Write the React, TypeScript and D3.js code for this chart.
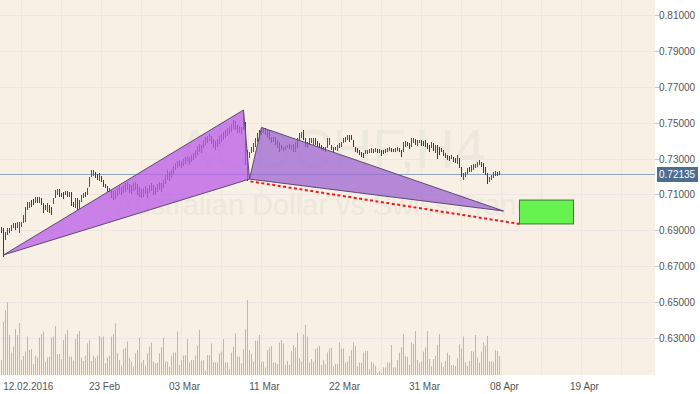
import React, { useEffect, useRef } from "react";
import * as d3 from "d3";

// AUDCHF H4 bars (one value per 4h bar)
const highs = [
  0.6919, 0.6913, 0.6891, 0.6913, 0.6913, 0.6930, 0.6941, 0.6941, 0.6947, 0.6947,
  0.6947, 0.6986, 0.7030, 0.7058, 0.7058, 0.7069, 0.7075, 0.7086, 0.7086, 0.7086,
  0.7081, 0.7053, 0.7042, 0.7053, 0.7042, 0.7030, 0.7081, 0.7125, 0.7131, 0.7131,
  0.7108, 0.7114, 0.7120, 0.7120, 0.7114, 0.7114, 0.7058, 0.7081, 0.7081, 0.7069,
  0.7097, 0.7108, 0.7114, 0.7136, 0.7198, 0.7237, 0.7237, 0.7225, 0.7214, 0.7220,
  0.7203, 0.7181, 0.7159, 0.7147, 0.7136, 0.7125, 0.7120, 0.7125, 0.7136, 0.7147,
  0.7142, 0.7153, 0.7164, 0.7170, 0.7159, 0.7153, 0.7164, 0.7170, 0.7159, 0.7142,
  0.7131, 0.7136, 0.7147, 0.7136, 0.7153, 0.7164, 0.7153, 0.7142, 0.7159, 0.7170,
  0.7164, 0.7181, 0.7209, 0.7237, 0.7225, 0.7237, 0.7259, 0.7276, 0.7287, 0.7292,
  0.7281, 0.7298, 0.7309, 0.7315, 0.7309, 0.7320, 0.7331, 0.7348, 0.7370, 0.7382,
  0.7376, 0.7404, 0.7421, 0.7426, 0.7437, 0.7426, 0.7409, 0.7398, 0.7409, 0.7426,
  0.7437, 0.7448, 0.7460, 0.7471, 0.7476, 0.7493, 0.7515, 0.7510, 0.7487, 0.7482,
  0.7476, 0.7565, 0.7504, 0.7348, 0.7337, 0.7365, 0.7387, 0.7415, 0.7443, 0.7460,
  0.7471, 0.7471, 0.7471, 0.7460, 0.7460, 0.7421, 0.7421, 0.7421, 0.7404, 0.7393,
  0.7376, 0.7365, 0.7370, 0.7376, 0.7382, 0.7376, 0.7382, 0.7393, 0.7415, 0.7443,
  0.7448, 0.7460, 0.7415, 0.7393, 0.7415, 0.7415, 0.7415, 0.7415, 0.7398, 0.7387,
  0.7376, 0.7365, 0.7365, 0.7415, 0.7415, 0.7376, 0.7365, 0.7365, 0.7376, 0.7387,
  0.7393, 0.7415, 0.7421, 0.7432, 0.7432, 0.7432, 0.7404, 0.7365, 0.7359, 0.7348,
  0.7337, 0.7331, 0.7348, 0.7348, 0.7354, 0.7359, 0.7354, 0.7359, 0.7354, 0.7354,
  0.7348, 0.7348, 0.7354, 0.7359, 0.7365, 0.7359, 0.7354, 0.7359, 0.7365, 0.7359,
  0.7348, 0.7393, 0.7398, 0.7393, 0.7387, 0.7415, 0.7415, 0.7409, 0.7404, 0.7404,
  0.7404, 0.7398, 0.7404, 0.7387, 0.7376, 0.7393, 0.7387, 0.7376, 0.7376, 0.7365,
  0.7359, 0.7348, 0.7331, 0.7320, 0.7315, 0.7320, 0.7309, 0.7303, 0.7320, 0.7303,
  0.7253, 0.7220, 0.7225, 0.7248, 0.7253, 0.7264, 0.7270, 0.7270, 0.7281, 0.7292,
  0.7281, 0.7276, 0.7253, 0.7220, 0.7198, 0.7209, 0.7225, 0.7231, 0.7225, 0.7231,
];
const lows = [
  0.6885, 0.6752, 0.6847, 0.6874, 0.6885, 0.6897, 0.6913, 0.6902, 0.6913, 0.6885,
  0.6919, 0.6941, 0.6947, 0.7014, 0.7025, 0.7030, 0.7042, 0.7053, 0.7053, 0.7053,
  0.7042, 0.6997, 0.7014, 0.7003, 0.6997, 0.6986, 0.7047, 0.7081, 0.7097, 0.7086,
  0.7086, 0.7075, 0.7097, 0.7086, 0.7086, 0.7036, 0.7030, 0.7025, 0.7014, 0.7019,
  0.7058, 0.7081, 0.7086, 0.7097, 0.7142, 0.7198, 0.7203, 0.7192, 0.7181, 0.7175,
  0.7170, 0.7142, 0.7136, 0.7114, 0.7114, 0.7081, 0.7069, 0.7075, 0.7092, 0.7103,
  0.7097, 0.7108, 0.7114, 0.7125, 0.7108, 0.7103, 0.7120, 0.7125, 0.7097, 0.7086,
  0.7081, 0.7086, 0.7103, 0.7081, 0.7108, 0.7120, 0.7097, 0.7097, 0.7114, 0.7125,
  0.7114, 0.7136, 0.7159, 0.7181, 0.7175, 0.7192, 0.7214, 0.7237, 0.7248, 0.7259,
  0.7248, 0.7259, 0.7270, 0.7281, 0.7264, 0.7281, 0.7292, 0.7303, 0.7320, 0.7337,
  0.7331, 0.7359, 0.7376, 0.7387, 0.7398, 0.7382, 0.7359, 0.7348, 0.7365, 0.7382,
  0.7393, 0.7404, 0.7415, 0.7426, 0.7437, 0.7448, 0.7465, 0.7460, 0.7443, 0.7443,
  0.7437, 0.7460, 0.7264, 0.7175, 0.7303, 0.7331, 0.7337, 0.7365, 0.7393, 0.7404,
  0.7432, 0.7443, 0.7432, 0.7415, 0.7404, 0.7387, 0.7393, 0.7376, 0.7359, 0.7337,
  0.7348, 0.7343, 0.7348, 0.7359, 0.7354, 0.7348, 0.7337, 0.7337, 0.7359, 0.7404,
  0.7415, 0.7404, 0.7365, 0.7359, 0.7376, 0.7387, 0.7376, 0.7376, 0.7365, 0.7359,
  0.7348, 0.7343, 0.7337, 0.7359, 0.7376, 0.7348, 0.7337, 0.7348, 0.7343, 0.7359,
  0.7365, 0.7387, 0.7393, 0.7404, 0.7393, 0.7404, 0.7365, 0.7337, 0.7331, 0.7320,
  0.7309, 0.7303, 0.7326, 0.7326, 0.7331, 0.7331, 0.7331, 0.7337, 0.7331, 0.7331,
  0.7315, 0.7326, 0.7331, 0.7337, 0.7343, 0.7337, 0.7337, 0.7337, 0.7343, 0.7337,
  0.7309, 0.7337, 0.7365, 0.7370, 0.7354, 0.7365, 0.7387, 0.7376, 0.7370, 0.7387,
  0.7370, 0.7370, 0.7365, 0.7354, 0.7337, 0.7359, 0.7343, 0.7331, 0.7298, 0.7320,
  0.7337, 0.7315, 0.7303, 0.7292, 0.7287, 0.7298, 0.7281, 0.7276, 0.7270, 0.7248,
  0.7198, 0.7181, 0.7198, 0.7214, 0.7225, 0.7225, 0.7237, 0.7248, 0.7253, 0.7264,
  0.7253, 0.7220, 0.7209, 0.7159, 0.7170, 0.7181, 0.7192, 0.7203, 0.7203, 0.7209,
];
// u = bar closed up (green), d = closed down (red)
const barDir = (
  "dduuuuuduu" + "uuuuuddudu" + "dddudduuud" + "ddududdudu" + "uuduuuuddu" +
  "dddduddu uu".replace(" ", "") + "duuudduudd" + "duuduudduu" + "duuuduuuuu" + "duuuduuuuu" +
  "duuuuddduu" + "uuuuuuuddu" + "dudduuuuuu" + "uddddduddd" + "dduudududu" +
  "uddduuuddd" + "ddduuddduu" + "uuuudddddd" + "dduuuududu" + "dduuudduud" +
  "duudduuduu" + "dddddududd" + "ddddduddud" + "duuuduuuuu" + "dddduuuudu"
).split("");
const volumes = [
  750, 2670, 3250, 3630, 2000, 1120, 1420, 2300, 2000, 2600,
  750, 950, 1170, 1920, 1250, 1300, 550, 970, 870, 1870,
  2050, 2150, 650, 870, 920, 1870, 1920, 2450, 1050, 1050,
  800, 1750, 2050, 2250, 920, 920, 720, 1800, 2050, 2200,
  870, 700, 970, 1580, 1750, 700, 970, 850, 970, 1950,
  1870, 1920, 600, 870, 950, 1920, 2050, 2580, 1080, 750,
  470, 1300, 1370, 1670, 850, 670, 420, 1080, 1250, 1870,
  630, 750, 470, 1080, 1420, 1620, 670, 580, 620, 1080,
  1380, 1870, 670, 670, 420, 970, 1120, 1120, 2170, 500,
  750, 970, 1000, 1800, 630, 750, 750, 970, 1470, 2250,
  720, 750, 220, 1000, 1000, 1580, 630, 630, 630, 1080,
  1170, 1800, 630, 630, 300, 1120, 1420, 2080, 920, 920,
  580, 1280, 2280, 3750, 1250, 1050, 670, 1720, 1720, 2000,
  670, 670, 370, 1250, 1370, 1450, 620, 620, 550, 1620,
  1750, 1580, 500, 700, 500, 1200, 1500, 1370, 2120, 830,
  670, 2030, 2500, 1920, 620, 800, 670, 1300, 1370, 1450,
  500, 750, 550, 1130, 1330, 1370, 450, 550, 550, 1620,
  1330, 1330, 620, 670, 950, 1250, 1630, 1450, 450, 620,
  620, 1120, 1200, 1200, 300, 670, 580, 450, 120, 200,
  100, 380, 380, 620, 620, 1500, 380, 380, 750, 1120,
  1380, 2050, 950, 920, 500, 1620, 1550, 2200, 750, 620,
  670, 1170, 1370, 2200, 800, 450, 800, 950, 1500, 2050,
  620, 420, 700, 1120, 1000, 500, 500, 450, 830, 1530,
  1330, 1920, 630, 450, 700, 1200, 1170, 2000, 870, 620,
  1170, 1620, 1470, 1950, 700, 670, 670, 1250, 1200, 950,
];

const priceTicks = [0.63, 0.65, 0.67, 0.69, 0.71, 0.73, 0.75, 0.77, 0.79, 0.81];
const dateTickBars = [10, 50, 90, 130, 170, 210, 250, 290];
const dateTickLabels = ["12.02.2016", "23 Feb", "03 Mar", "11 Mar", "22 Mar", "31 Mar", "08 Apr", "19 Apr"];
const lastPrice = 0.72135;

// harmonic pattern X-A-B-C-D
const patternBars = [1, 121, 124, 130, 251];
const patternPrices = [0.6763, 0.7571, 0.7186, 0.7474, 0.7008];
const projectionBars = [124.5, 259];
const projectionPrices = [0.7173, 0.6936];
const targetBars = [259, 286];
const targetPrices = [0.7069, 0.6936];

const W = 700;
const H = 394;
const plotR = 655;
const plotB = 375;
const font = "'Liberation Sans', Arial, sans-serif";

export default function App() {
  const svgRef = useRef<SVGSVGElement>(null);

  useEffect(() => {
    const svg = d3.select(svgRef.current);
    svg.selectAll("*").remove();

    const x = d3.scaleLinear().domain([-0.75, 326.75]).range([0, plotR]);
    const y = d3.scaleLinear().domain([0.6094, 0.8184]).range([plotB, 0]);
    const yVol = d3.scaleLinear().domain([0, 5000]).range([plotB, plotB - 100]);

    svg.append("rect").attr("width", W).attr("height", H).attr("fill", "#ffffff");
    svg.append("rect").attr("width", plotR).attr("height", plotB).attr("fill", "#f8f0e4");

    // grid
    const grid = svg.append("g").attr("stroke", "#efe5e4").attr("stroke-width", 1);
    priceTicks.forEach((p) => {
      const yy = Math.round(y(p)) + 0.5;
      grid.append("line").attr("x1", 0).attr("x2", plotR).attr("y1", yy).attr("y2", yy);
    });
    d3.range(10, 327, 20).forEach((b) => {
      const xx = Math.floor(x(b)) + 0.5;
      grid.append("line").attr("x1", xx).attr("x2", xx).attr("y1", 0).attr("y2", plotB);
    });

    // watermark
    svg.append("text")
      .attr("x", 331).attr("y", 168)
      .attr("text-anchor", "middle")
      .attr("font-family", font).attr("font-size", 55)
      .attr("fill", "#ece8dd")
      .text("AUDCHF,H4");
    svg.append("text")
      .attr("x", 323).attr("y", 215)
      .attr("text-anchor", "middle")
      .attr("font-family", font).attr("font-size", 29)
      .attr("fill", "#ece8dd")
      .text("Australian Dollar vs Swiss Franc");

    // volumes
    svg.append("g")
      .selectAll("rect")
      .data(volumes)
      .join("rect")
      .attr("x", (v, i) => x(i) - 0.5)
      .attr("width", 1)
      .attr("y", (v) => yVol(v))
      .attr("height", (v) => plotB - yVol(v))
      .attr("fill", "#8ec6e0");

    // last price line
    const yLast = Math.round(y(lastPrice)) + 0.5;
    svg.append("line")
      .attr("x1", 0).attr("x2", plotR)
      .attr("y1", yLast).attr("y2", yLast)
      .attr("stroke", "#8ea8c0");

    // price bars
    svg.append("g")
      .selectAll("line")
      .data(highs)
      .join("line")
      .attr("x1", (h, i) => x(i))
      .attr("x2", (h, i) => x(i))
      .attr("y1", (h) => Math.round(y(h)))
      .attr("y2", (h, i) => Math.max(Math.round(y(lows[i])), Math.round(y(h)) + 2))
      .attr("stroke", (h, i) => (barDir[i] === "u" ? "#2b6a27" : "#7a2020"))
      .attr("stroke-width", 1);

    // pattern triangles
    const pts = patternBars.map((b, i) => [x(b), y(patternPrices[i])] as [number, number]);
    const line = d3.line().curve(d3.curveLinearClosed);
    svg.append("path")
      .attr("d", line([pts[0], pts[1], pts[2]]))
      .attr("fill", "#b95de9").attr("fill-opacity", 0.76)
      .attr("stroke", "#5d4a70").attr("stroke-width", 1);
    svg.append("path")
      .attr("d", line([pts[2], pts[3], pts[4]]))
      .attr("fill", "#9f67d2").attr("fill-opacity", 0.76)
      .attr("stroke", "#5d4a70").attr("stroke-width", 1);

    // projection line
    svg.append("line")
      .attr("x1", x(projectionBars[0])).attr("y1", y(projectionPrices[0]))
      .attr("x2", x(projectionBars[1])).attr("y2", y(projectionPrices[1]))
      .attr("stroke", "#f01818").attr("stroke-width", 2)
      .attr("stroke-dasharray", "3 2.5");

    // target zone
    svg.append("rect")
      .attr("x", x(targetBars[0]))
      .attr("y", y(targetPrices[0]))
      .attr("width", x(targetBars[1]) - x(targetBars[0]))
      .attr("height", y(targetPrices[1]) - y(targetPrices[0]))
      .attr("fill", "#66f24f")
      .attr("stroke", "#3c7a2c").attr("stroke-width", 1);

    // right price axis
    const ax = svg.append("g").attr("font-family", font).attr("font-size", 10).attr("fill", "#555");
    priceTicks.forEach((p) => {
      const yy = Math.round(y(p)) + 0.5;
      ax.append("line").attr("x1", plotR).attr("x2", plotR + 4).attr("y1", yy).attr("y2", yy).attr("stroke", "#c8c8c8");
      ax.append("text").attr("x", plotR + 4).attr("y", yy).attr("dy", "0.35em").text(d3.format(".5f")(p));
    });
    svg.append("rect")
      .attr("x", plotR + 2).attr("y", yLast - 7.5)
      .attr("width", 41).attr("height", 15)
      .attr("fill", "#4b6e93");
    svg.append("text")
      .attr("x", plotR + 4).attr("y", yLast).attr("dy", "0.35em")
      .attr("font-family", font).attr("font-size", 10).attr("fill", "#fff")
      .text(d3.format(".5f")(lastPrice));

    // date axis
    const dx = svg.append("g").attr("font-family", font).attr("font-size", 10).attr("fill", "#555");
    dateTickBars.forEach((b, i) => {
      const t = dx.append("text")
        .attr("x", x(b) + 3).attr("y", 390)
        .attr("text-anchor", "middle")
        .text(dateTickLabels[i]);
      const box = (t.node() as SVGTextElement).getBBox();
      if (box.x < 3) t.attr("x", 3 + box.width / 2);
    });
  }, []);

  return (
    <svg
      ref={svgRef}
      width={W}
      height={H}
      style={{ position: "absolute", left: 0, top: 0, display: "block" }}
    ></svg>
  );
}
